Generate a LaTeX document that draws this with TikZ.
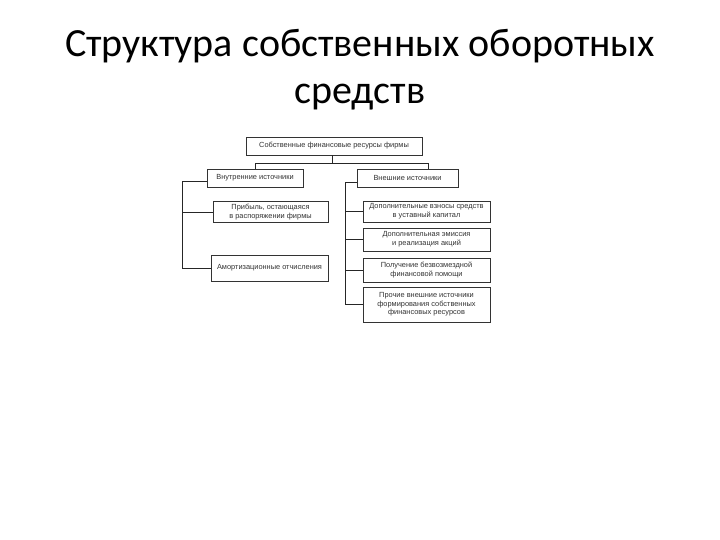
\documentclass[tikz,border=0pt]{standalone}
\usepackage{fontspec}
\setmainfont{Carlito}
\newfontfamily\boxfont{Liberation Sans}
\begin{document}
\begin{tikzpicture}[x=1pt,y=-1pt,
  box/.style={draw=black!80,line width=0.7pt,fill=white,inner sep=0pt,align=center,
    font=\boxfont\fontsize{7.4}{8.6}\selectfont,text=black!80},
  link/.style={draw=black!85,line width=0.8pt},
  title/.style={font=\fontsize{40}{47}\selectfont,align=center,text=black}]
\useasboundingbox (0,0) rectangle (720,540);
\fill[white] (0,0) rectangle (720,540);
\node[title] (title) at (360,70) {Структура собственных оборотных\\средств};
\node[box,minimum width=176pt,minimum height=18pt] (top) at (334,146) {Собственные финансовые ресурсы фирмы};
\node[box,minimum width=96pt,minimum height=18pt] (int) at (255,178) {Внутренние источники};
\node[box,minimum width=101pt,minimum height=18pt] (ext) at (407.5,178) {Внешние источники};
\node[box,minimum width=115pt,minimum height=21pt] (profit) at (270.5,212) {Прибыль, остающаяся\\в распоряжении фирмы};
\node[box,minimum width=117pt,minimum height=26pt] (amort) at (269.5,268) {Амортизационные отчисления};
\node[box,minimum width=127pt,minimum height=21pt] (vzn) at (426.5,211.5) {Дополнительные взносы средств\\в уставный капитал};
\node[box,minimum width=127pt,minimum height=23pt] (emis) at (426.5,239.5) {Дополнительная эмиссия\\и реализация акций};
\node[box,minimum width=127pt,minimum height=24pt] (help) at (426.5,270) {Получение безвозмездной\\финансовой помощи};
\node[box,minimum width=127pt,minimum height=35pt] (other) at (426.5,304.5) {Прочие внешние источники\\формирования собственных\\финансовых ресурсов};
% top connectors
\coordinate (hub) at (332,163);
\draw[link] (top.south -| hub) -- (hub);
\draw[link] (int.north) |- (hub);
\draw[link] (ext.north -| 428,0) |- (hub);
% left spine
\coordinate (lsp) at (182,181);
\draw[link] (int.west |- lsp) -- (lsp) |- (amort.west);
\draw[link] (profit.west -| lsp) -- (profit.west);
% right spine
\coordinate (rsp) at (345,182);
\draw[link] (ext.west |- rsp) -- (rsp) |- (other.west);
\draw[link] (vzn.west -| rsp) -- (vzn.west);
\draw[link] (emis.west -| rsp) -- (emis.west);
\draw[link] (help.west -| rsp) -- (help.west);
\end{tikzpicture}
\end{document}
